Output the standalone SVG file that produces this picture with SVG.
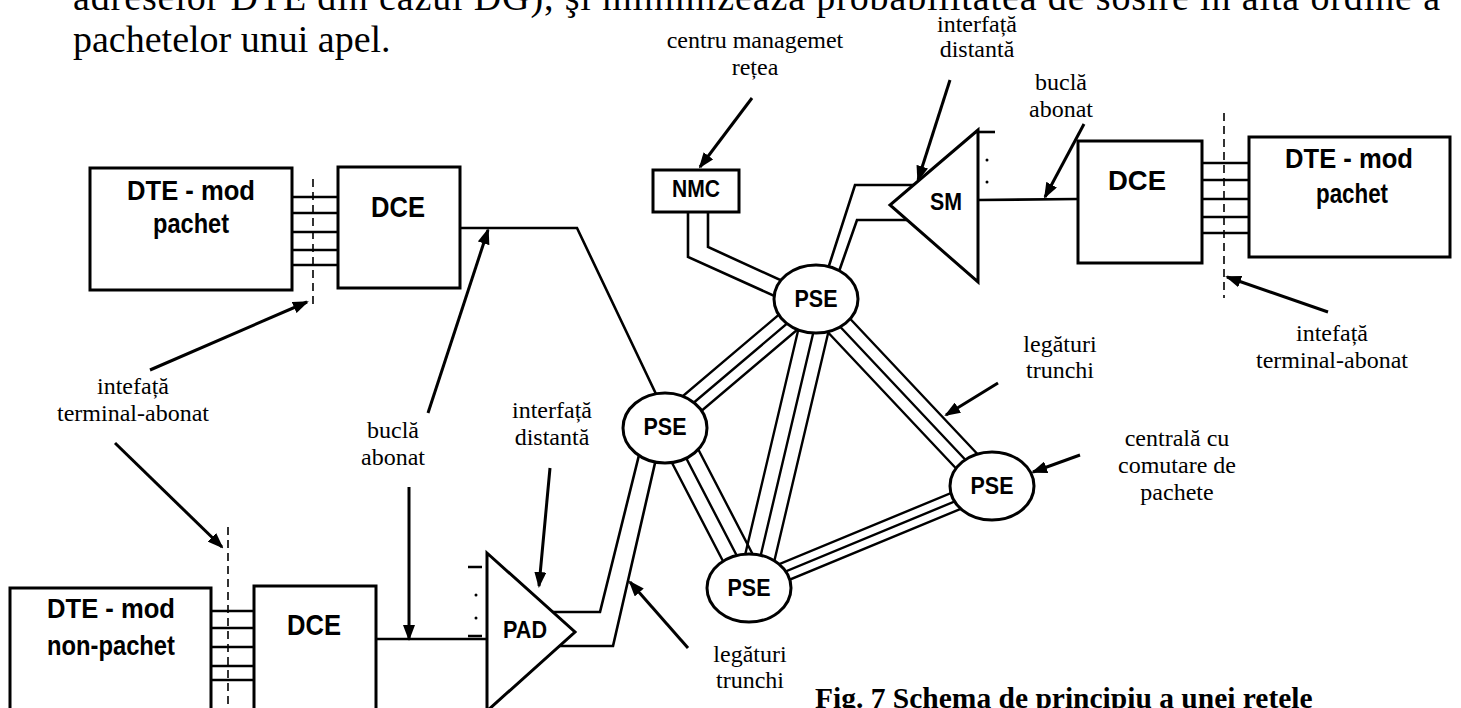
<svg xmlns="http://www.w3.org/2000/svg" width="1461" height="708" viewBox="0 0 1461 708">
<defs>
<marker id="ah" viewBox="0 0 16 12" refX="14" refY="6" markerWidth="16" markerHeight="12" markerUnits="userSpaceOnUse" orient="auto">
<path d="M0,0 L16,6 L0,12 z" fill="#000"/>
</marker>
</defs>
<style>
.box{fill:#fff;stroke:#000;stroke-width:3}
.ln{fill:none;stroke:#000;stroke-width:2.6}
.tr{fill:none;stroke:#000;stroke-width:2.4}
.dash{fill:none;stroke:#000;stroke-width:1.6;stroke-dasharray:8 5}
.arr{fill:none;stroke:#000;stroke-width:3;marker-end:url(#ah)}
.bl{font-family:"Liberation Sans",Arial,sans-serif;font-weight:bold;text-anchor:middle;fill:#000}
.lb{font-family:"Liberation Serif","Times New Roman",serif;font-size:24px;text-anchor:middle;fill:#000}
.body{font-family:"Liberation Serif","Times New Roman",serif;font-size:38px;fill:#000}
.cap{font-family:"Liberation Serif","Times New Roman",serif;font-size:29.5px;font-weight:bold;fill:#000}
</style>
<rect width="1461" height="708" fill="#fff"/>

<g id="bodytext">
<text class="body" x="73" y="10" textLength="1367" lengthAdjust="spacing">adreselor DTE din cazul DG), şi minimizează probabilitatea de sosire în altă ordine a</text>
<text class="body" x="73" y="52">pachetelor unui apel.</text>
</g>

<g id="connectors">
<!-- interface bundles -->
<path class="ln" d="M292,197H338M292,213H338M292,232H338M292,250H338M292,265H338"/>
<path class="ln" d="M211,611H254M211,628H254M211,647H254M211,666H254M211,680H254"/>
<path class="ln" d="M1202,163H1251M1202,180H1251M1202,199H1251M1202,217H1251M1202,233H1251"/>
<!-- subscriber loops -->
<path class="ln" d="M460,228H577L656,394"/>
<path class="ln" d="M376,639H487"/>
<path class="ln" d="M978,200L1078,199"/>
<!-- PAD dashes -->
<path class="ln" d="M468,567H482M468,636H482"/>
<circle cx="476" cy="595" r="1.5"/><circle cx="476" cy="618" r="1.5"/>
<!-- SM dashes -->
<path class="ln" d="M978,132H995"/>
<circle cx="987" cy="160" r="1.5"/><circle cx="987" cy="182" r="1.5"/>
<!-- PAD trunk -->
<path class="ln" d="M540,612H600L643,439"/>
<path class="ln" d="M540,646H613L658,450"/>
<!-- SM trunk -->
<path class="ln" d="M930,185H855L826,275"/>
<path class="ln" d="M925,220H857L836,280"/>
<!-- NMC link -->
<path class="ln" d="M688,205V257L790,303"/>
<path class="ln" d="M708,205V247L800,289"/>
<!-- trunk lines between PSEs -->
<g class="tr">
<path d="M808,290L657,418M816,299L665,427M824,307L673,435"/>
<path d="M806,297L738,585M821,300L753,588M835,304L767,592"/>
<path d="M806,309L982,496M815,300L991,487M824,291L1000,478"/>
<path d="M656,432L739,592M669,425L752,585M682,418L765,578"/>
<path d="M743,599L987,498M748,587L992,486M753,575L997,474"/>
</g>
<!-- dashed interface lines -->
<path class="dash" d="M313,179V306"/>
<path class="dash" d="M228,527V708"/>
<path class="dash" d="M1224,113V298"/>
<!-- annotation arrows -->
<path class="arr" d="M150,370L307,302"/>
<path class="arr" d="M115,443L222,547"/>
<path class="arr" d="M428,413L488,230"/>
<path class="arr" d="M409,487V639"/>
<path class="arr" d="M550,468L539,586"/>
<path class="arr" d="M688,648L630,582"/>
<path class="arr" d="M752,98L700,167"/>
<path class="arr" d="M950,80L918,180"/>
<path class="arr" d="M1084,124L1045,197"/>
<path class="arr" d="M1328,312L1227,277"/>
<path class="arr" d="M998,383L946,415"/>
<path class="arr" d="M1080,455L1033,472"/>
</g>

<g id="dte1"><rect class="box" x="90" y="168" width="202" height="122"/>
<text class="bl" x="191" y="200" font-size="28" textLength="128" lengthAdjust="spacingAndGlyphs">DTE - mod</text>
<text class="bl" x="191" y="233" font-size="28" textLength="76" lengthAdjust="spacingAndGlyphs">pachet</text></g>
<g id="dce1"><rect class="box" x="338" y="167" width="122" height="121"/>
<text class="bl" x="398" y="217" font-size="30" textLength="54" lengthAdjust="spacingAndGlyphs">DCE</text></g>

<g id="dte2"><rect class="box" x="10" y="588" width="201" height="130"/>
<text class="bl" x="111" y="618" font-size="28" textLength="128" lengthAdjust="spacingAndGlyphs">DTE - mod</text>
<text class="bl" x="111" y="655" font-size="28" textLength="128" lengthAdjust="spacingAndGlyphs">non-pachet</text></g>
<g id="dce2"><rect class="box" x="254" y="586" width="122" height="130"/>
<text class="bl" x="314" y="635" font-size="30" textLength="54" lengthAdjust="spacingAndGlyphs">DCE</text></g>

<g id="dce3"><rect class="box" x="1078" y="141" width="124" height="122"/>
<text class="bl" x="1137" y="190" font-size="28" textLength="58" lengthAdjust="spacingAndGlyphs">DCE</text></g>
<g id="dte3"><rect class="box" x="1249" y="137" width="201" height="120"/>
<text class="bl" x="1349" y="168" font-size="28" textLength="128" lengthAdjust="spacingAndGlyphs">DTE - mod</text>
<text class="bl" x="1352" y="203" font-size="28" textLength="72" lengthAdjust="spacingAndGlyphs">pachet</text></g>

<g id="nmc"><rect class="box" x="653" y="170" width="86" height="42"/>
<text class="bl" x="696" y="197" font-size="24" textLength="48" lengthAdjust="spacingAndGlyphs">NMC</text></g>

<g id="sm"><path class="box" d="M978,130L890,205L978,282z"/>
<text class="bl" x="946" y="210" font-size="24" textLength="32" lengthAdjust="spacingAndGlyphs">SM</text></g>

<g id="pad"><path class="box" d="M487,553L575,632L487,711z"/>
<text class="bl" x="525" y="638" font-size="24" textLength="44" lengthAdjust="spacingAndGlyphs">PAD</text></g>

<g id="pse-top"><ellipse class="box" cx="816" cy="299" rx="42" ry="34"/>
<text class="bl" x="816" y="307" font-size="24" textLength="43" lengthAdjust="spacingAndGlyphs">PSE</text></g>
<g id="pse-left"><ellipse class="box" cx="665" cy="428" rx="42" ry="35"/>
<text class="bl" x="665" y="435" font-size="24" textLength="43" lengthAdjust="spacingAndGlyphs">PSE</text></g>
<g id="pse-right"><ellipse class="box" cx="992" cy="486" rx="42" ry="34"/>
<text class="bl" x="992" y="494" font-size="24" textLength="43" lengthAdjust="spacingAndGlyphs">PSE</text></g>
<g id="pse-bottom"><ellipse class="box" cx="749" cy="588" rx="42" ry="34"/>
<text class="bl" x="749" y="596" font-size="24" textLength="43" lengthAdjust="spacingAndGlyphs">PSE</text></g>

<g id="labels">
<text class="lb" x="755" y="48">centru managemet</text>
<text class="lb" x="755" y="75">rețea</text>
<text class="lb" x="977" y="32">interfață</text>
<text class="lb" x="977" y="57">distantă</text>
<text class="lb" x="1061" y="90">buclă</text>
<text class="lb" x="1061" y="117">abonat</text>
<text class="lb" x="133" y="394">intefață</text>
<text class="lb" x="133" y="421">terminal-abonat</text>
<text class="lb" x="393" y="438">buclă</text>
<text class="lb" x="393" y="465">abonat</text>
<text class="lb" x="552" y="418">interfață</text>
<text class="lb" x="552" y="445">distantă</text>
<text class="lb" x="750" y="662">legături</text>
<text class="lb" x="750" y="688">trunchi</text>
<text class="lb" x="1060" y="352">legături</text>
<text class="lb" x="1060" y="378">trunchi</text>
<text class="lb" x="1332" y="341">intefață</text>
<text class="lb" x="1332" y="368">terminal-abonat</text>
<text class="lb" x="1177" y="446">centrală cu</text>
<text class="lb" x="1177" y="473">comutare de</text>
<text class="lb" x="1177" y="500">pachete</text>
</g>

<g id="caption">
<text class="cap" x="815" y="708">Fig. 7 Schema de principiu a unei reţele</text>
</g>
</svg>
